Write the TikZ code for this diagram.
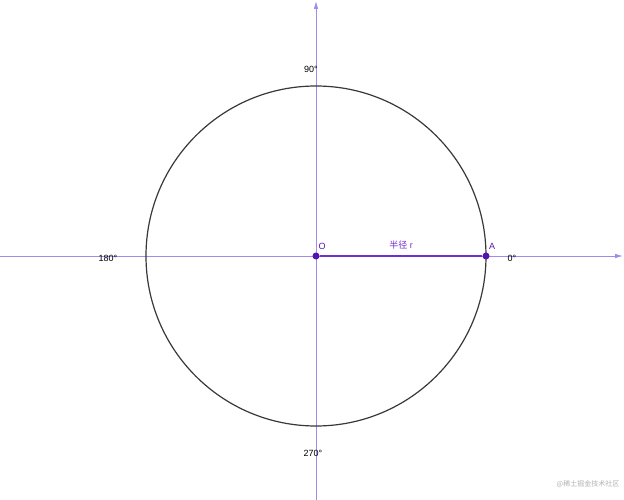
\documentclass[tikz,border=0pt]{standalone}
\usepackage{fontspec}
\setmainfont{Liberation Sans}
\newfontfamily\cjk{Noto Sans CJK SC}
\usetikzlibrary{arrows.meta}
\definecolor{axiscol}{RGB}{160,140,235}
\definecolor{radcol}{RGB}{115,45,205}
\definecolor{dotcol}{RGB}{85,20,175}

\begin{document}
\begin{tikzpicture}[x=1pt,y=-1pt,font=\fontsize{9}{10}\selectfont,
    axis/.style={axiscol,line width=0.8pt,-{Latex[length=8pt,width=4.5pt]}},
    dot/.style={circle,fill=dotcol,inner sep=0pt,minimum size=7pt},
    lbl/.style={inner sep=1pt}]
  \useasboundingbox (0,0) rectangle (624,500);
  \fill [white] (0,0) rectangle (624,500);

  % axes
  \coordinate (xl) at (0,256);
  \coordinate (xr) at (623,256);
  \coordinate (yb) at (316,500);
  \coordinate (yt) at (316,1);
  \draw [axis] (xl) -- (xr);
  \draw [axis] (yb) -- (yt);

  % circle
  \draw [black!78,line width=1.2pt] (316,256) circle (170);

  % radius
  \node [dot] (O) at (316,256) {};
  \node [dot] (A) at (486,256) {};
  \draw [radcol,line width=2pt] (O) -- (A);

  % labels
  \node [lbl,dotcol] (oname) at (322,246) {O};
  \node [lbl,dotcol] (aname) at (492,246) {A};
  \node [lbl,radcol] (rname) at (401,245) {{\cjk 半径} r};
  \node [lbl] (d0) at (512,258) {0°};
  \node [lbl] (d90) at (311,69) {90°};
  \node [lbl] (d180) at (108,258) {180°};
  \node [lbl] (d270) at (313,453) {270°};
  \node [lbl,black!30,font=\cjk\fontsize{7}{8}\selectfont] (mark) at (588,484) {@稀土掘金技术社区};
\end{tikzpicture}
\end{document}
